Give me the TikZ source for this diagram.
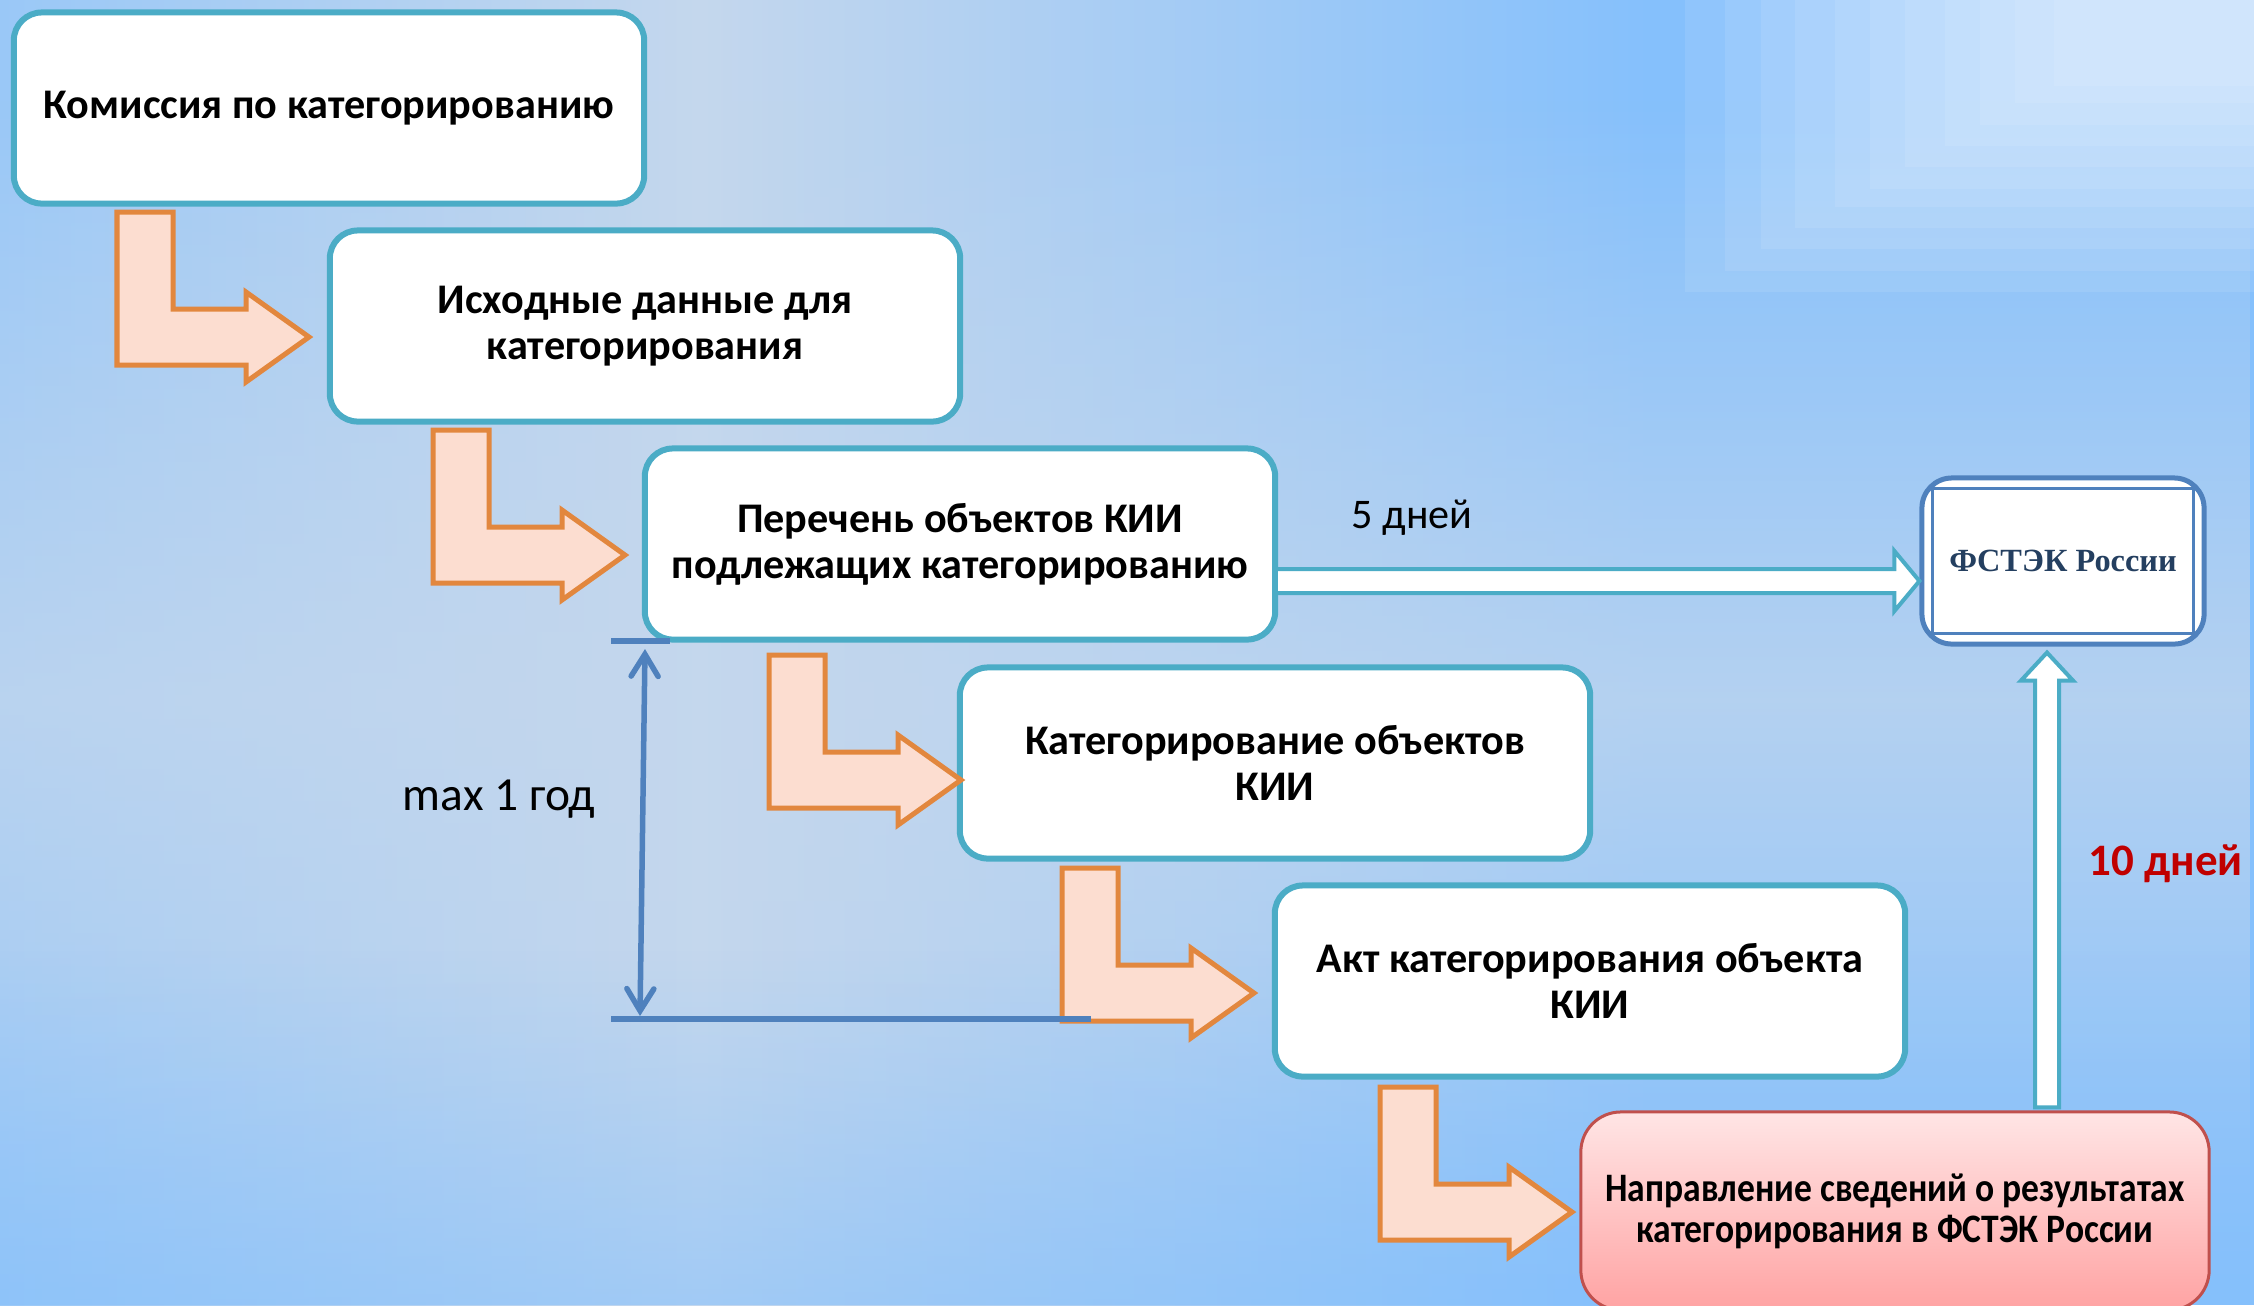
\documentclass[tikz,border=0pt]{standalone}
\usepackage{fontspec}
\setmainfont{Carlito}
\newfontfamily\timesfont{Liberation Serif}
\newfontfamily\narrowfont[FakeStretch=0.88]{Carlito}
\usetikzlibrary{arrows.meta,calc,fadings}

\definecolor{boxline}{HTML}{4BACC6}
\definecolor{steporange}{HTML}{E2873E}
\definecolor{steppeach}{HTML}{FCDDD0}
\definecolor{dimblue}{HTML}{4F81BD}
\definecolor{fsteknavy}{HTML}{243F60}
\definecolor{daysred}{HTML}{C00000}
\definecolor{redtop}{HTML}{FFE5E5}
\definecolor{redbottom}{HTML}{FFA3A3}
\definecolor{redline}{HTML}{C0504D}
\definecolor{bgA}{HTML}{9AC8F7}
\definecolor{bgB}{HTML}{C4D7ED}
\definecolor{bgC}{HTML}{85C0FC}

\tikzfading[name=midband, top color=transparent!100, bottom color=transparent!100, middle color=transparent!25]
\tikzfading[name=lowband, top color=transparent!100, bottom color=transparent!45]

\begin{document}
\begin{tikzpicture}[x=0.01cm, y=-0.01cm,
    stepbox/.style={draw=boxline, line width=0.06cm, fill=white, rounded corners=0.28cm,
        minimum width=6.3cm, minimum height=1.91cm, align=center,
        font=\bfseries\fontsize{12}{13.1}\selectfont},
    redbox/.style={draw=redline, line width=0.03cm, top color=redtop, bottom color=redbottom,
        rounded corners=0.4cm, minimum width=6.28cm, minimum height=1.98cm, align=center,
        font=\narrowfont\bfseries\fontsize{11.5}{11.7}\selectfont},
    fstekbox/.style={draw=dimblue, line width=0.05cm, fill=white, rounded corners=0.3cm,
        minimum width=2.82cm, minimum height=1.66cm,
        font=\timesfont\bfseries\fontsize{9.2}{11}\selectfont, text=fsteknavy},
    fatarrow/.style={draw=boxline, line width=0.04cm, fill=white},
    dimline/.style={draw=dimblue, line width=0.055cm},
    lstep/.pic={
        \draw[steporange, fill=steppeach, line width=0.05cm]
            (0,0) -- (56,0) -- (56,97) -- (129,97) -- (129,80) -- (192,125)
            -- (129,170) -- (129,153) -- (0,153) -- cycle;
    }
]
    \useasboundingbox (0,0) rectangle (2254,1305);

    % Draw the background
    \begin{scope}
        \clip (0,0) rectangle (2254,1305);
        \shade[left color=bgA, right color=bgB] (0,0) rectangle (700,1305);
        \shade[left color=bgB, right color=bgC] (700,0) rectangle (1650,1305);
        \fill[bgC] (1650,0) rectangle (2254,1305);
        \fill[bgB, path fading=midband] (0,100) rectangle (2254,1300);
        \fill[bgC, path fading=lowband] (0,950) rectangle (2254,1305);
        % steps in the top right corner
        \foreach \lx/\by in {1685/292, 1725/271, 1761/249, 1795/228, 1835/207, 1870/189,
                1905/167, 1945/146, 1980/125, 2015/103, 2054/86}
            \fill[white, opacity=0.09] (\lx,-20) rectangle (2280,\by);
    \end{scope}

    % Draw the steps
    \node[stepbox] (b1) at (329,108) {Комиссия по категорированию};
    \node[stepbox] (b2) at (645,326) {Исходные данные для\\категорирования};
    \node[stepbox] (b3) at (960,544) {Перечень объектов КИИ\\подлежащих категорированию};
    \node[stepbox] (b4) at (1275,763) {Категорирование объектов\\КИИ};
    \node[stepbox] (b5) at (1590,981) {Акт категорирования объекта\\КИИ};
    \node[redbox] (b6) at (1895,1211) {Направление сведений о результатах\\категорирования в ФСТЭК России};

    % Draw the regulator
    \node[fstekbox] (fstek) at (2063,561) {ФСТЭК России};
    \draw[dimblue, line width=0.035cm] ($(fstek.north west)+(13,13)$) rectangle ($(fstek.south east)+(-13,-13)$);

    % Draw the orange arrows between the steps
    \pic at (117,212) {lstep};
    \pic at (433,430) {lstep};
    \pic at (769,655) {lstep};
    \pic at (1062,868) {lstep};
    \pic at (1380,1087) {lstep};

    % Arrow to the regulator (5 days)
    \coordinate (fivey) at (0,581);
    \coordinate (fiveA) at (b3.east |- fivey);
    \coordinate (fiveB) at (fstek.west |- fivey);
    \draw[fatarrow] ($(fiveA)+(0,-12)$) -- ($(fiveB)+(-25,-12)$) -- ($(fiveB)+(-25,-30)$)
        -- (fiveB) -- ($(fiveB)+(-25,30)$) -- ($(fiveB)+(-25,12)$) -- ($(fiveA)+(0,12)$);
    \node[anchor=base, font=\fontsize{12}{14}\selectfont] (fivedays) at (1412,528) {5 дней};

    % Arrow from the last step up to the regulator (10 days)
    \coordinate (upx) at (2047,0);
    \coordinate (tenA) at (b6.north -| upx);
    \coordinate (tenB) at (fstek.south -| upx);
    \draw[fatarrow] ($(tenA)+(-12,-3)$) -- ($(tenB)+(-12,34)$) -- ($(tenB)+(-26,34)$)
        -- ($(tenB)+(0,6)$) -- ($(tenB)+(26,34)$) -- ($(tenB)+(12,34)$) -- ($(tenA)+(12,-3)$) -- cycle;
    \node[anchor=base west, inner sep=0pt, text=daysred, font=\bfseries\fontsize{12.8}{15}\selectfont] (tendays) at (2088,875) {10 дней};

    % Draw the max 1 year span
    \coordinate (spanA) at (611,641);
    \coordinate (spanB) at (670,641);
    \coordinate (spanC) at (611,1019);
    \coordinate (spanD) at (1091,1019);
    \coordinate (dimtop) at (645,649);
    \coordinate (dimbot) at (640,1016);
    \draw[dimline] (spanA) -- (spanB);
    \draw[dimline] (spanC) -- (spanD);
    \draw[dimline, {Straight Barb[length=0.22cm,width=0.27cm,line cap=round]}-{Straight Barb[length=0.22cm,width=0.27cm,line cap=round]}] (dimtop) -- (dimbot);
    \node[anchor=base, font=\fontsize{13.5}{16}\selectfont] (maxyear) at (499,810) {max 1 год};

\end{tikzpicture}
\end{document}
